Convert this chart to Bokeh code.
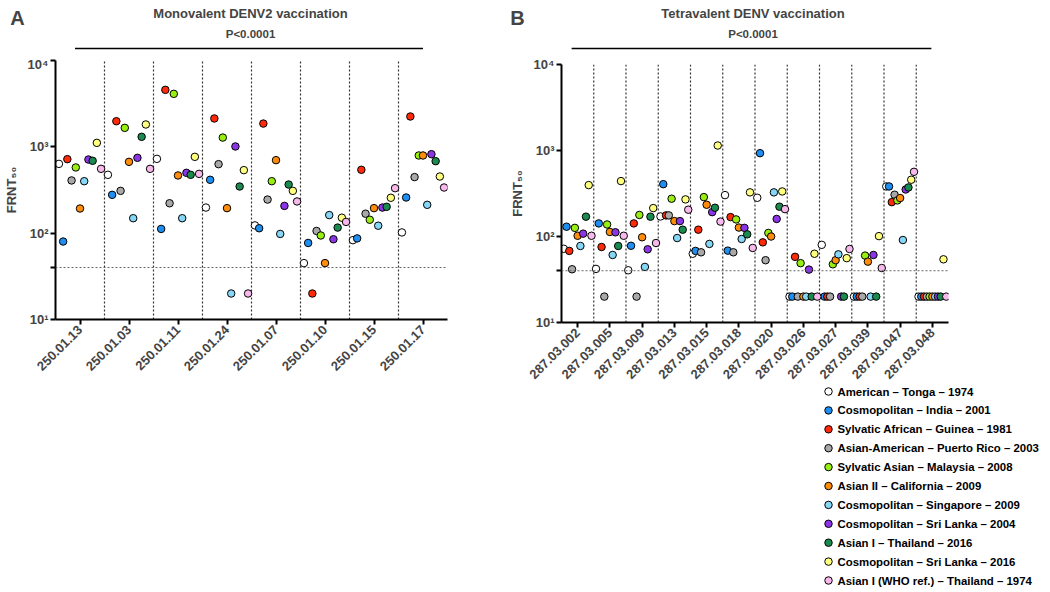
import math
from bokeh.plotting import figure
from bokeh.models import (ColumnDataSource, FactorRange, FixedTicker, Span, Label, Range1d)
from bokeh.core.properties import value
from bokeh.transform import dodge
from bokeh.layouts import row, column
from bokeh.embed import file_html
from bokeh.resources import INLINE

FONT = "Liberation Sans"

# ---------------- data ----------------
strains = [
    "American – Tonga – 1974",
    "Cosmopolitan – India – 2001",
    "Sylvatic African – Guinea – 1981",
    "Asian-American – Puerto Rico – 2003",
    "Sylvatic Asian – Malaysia – 2008",
    "Asian II – California  – 2009",
    "Cosmopolitan – Singapore – 2009",
    "Cosmopolitan – Sri Lanka – 2004",
    "Asian I – Thailand – 2016",
    "Cosmopolitan – Sri Lanka – 2016",
    "Asian I (WHO ref.) – Thailand – 1974",
]
strain_colors = ["#FFFFFF", "#1E8EF0", "#FF2A0A", "#A8A8A8", "#99EE11", "#FF8C0A",
                 "#86D6F5", "#8B35E6", "#1A8A4E", "#FFFF80", "#F7B8EC"]

mono_categories = ["250.01.13", "250.01.03", "250.01.11", "250.01.24",
                   "250.01.07", "250.01.10", "250.01.15", "250.01.17"]
tetra_categories = ["287.03.002", "287.03.005", "287.03.009", "287.03.013",
                    "287.03.015", "287.03.018", "287.03.020", "287.03.026",
                    "287.03.027", "287.03.039", "287.03.047", "287.03.048"]

# Monovalent DENV2 vaccination (FRNT50 per strain, one value per participant)
mono_american_tonga = [635, 474, 726, 198, 123, 45, 83, 102]
mono_cosmo_india = [80, 278, 112, 415, 114, 77, 87, 259]
mono_sylvatic_african = [720, 1980, 4570, 2130, 1860, 20, 542, 2245]
mono_asian_american = [408, 309, 222, 630, 245, 106, 168, 446]
mono_sylvatic_asian = [577, 1660, 4110, 1280, 400, 94, 143, 794]
mono_asian2_california = [193, 670, 466, 195, 701, 45, 195, 794]
mono_cosmo_singapore = [400, 149, 149, 20, 98, 162, 122, 213]
mono_cosmo_srilanka_2004 = [713, 746, 500, 1010, 207, 85, 198, 822]
mono_asian1_thailand_2016 = [689, 1306, 474, 347, 366, 116, 202, 682]
mono_cosmo_srilanka_2016 = [1112, 1815, 766, 537, 309, 151, 257, 453]
mono_asian1_who = [556, 556, 486, 20, 233, 135, 332, 338]

# Tetravalent DENV vaccination
tetra_american_tonga = [72, 42, 40.5, 171, 63, 303, 282, 20, 80, 20, 382, 20]
tetra_cosmo_india = [130, 142, 78, 406, 68, 68.5, 931, 20, 20, 20, 382, 20]
tetra_sylvatic_african = [68, 75.5, 142, 176, 120, 168, 85.5, 58, 20, 20, 251, 20]
tetra_asian_american = [41.6, 20, 20, 176, 65.5, 65.5, 53, 20, 20, 20, 306, 20]
tetra_sylvatic_asian = [126, 138, 178, 275, 287, 158, 110, 49, 47.5, 60, 263, 20]
tetra_asian2_california = [102, 113, 98, 151, 234, 127, 100, 20, 53, 51, 280, 20]
tetra_cosmo_singapore = [77.6, 61, 44.3, 96, 82, 93.5, 326, 20, 62, 20, 91, 20]
tetra_cosmo_srilanka_2004 = [108, 112, 71, 151, 192, 126, 160, 41.2, 20, 61, 352, 20]
tetra_asian1_thailand_2016 = [170, 77.6, 170, 120, 216, 106, 222, 20, 20, 20, 372, 20]
tetra_cosmo_srilanka_2016 = [396, 441, 214, 270, 1143, 326, 334, 63, 56, 101, 457, 54.3]
tetra_asian1_who = [102, 102, 84, 205, 149, 73.6, 208, 20, 71.6, 43, 565, 20]

limit_of_detection = 40
p_value_text = "P<0.0001"

mono_series = [mono_american_tonga, mono_cosmo_india, mono_sylvatic_african,
               mono_asian_american, mono_sylvatic_asian, mono_asian2_california,
               mono_cosmo_singapore, mono_cosmo_srilanka_2004,
               mono_asian1_thailand_2016, mono_cosmo_srilanka_2016, mono_asian1_who]
tetra_series = [tetra_american_tonga, tetra_cosmo_india, tetra_sylvatic_african,
                tetra_asian_american, tetra_sylvatic_asian, tetra_asian2_california,
                tetra_cosmo_singapore, tetra_cosmo_srilanka_2004,
                tetra_asian1_thailand_2016, tetra_cosmo_srilanka_2016, tetra_asian1_who]

HEADER_H = 56
MARKER_SIZE = 7.5


def make_header(width, height, title, letter, letter_x, frame_left, frame_w, n):
    """Panel letter, title and significance bar (pixel-space figure above a panel)."""
    h = figure(x_range=Range1d(0, width), y_range=Range1d(height, 0),
               frame_width=width, frame_height=height,
               min_border_left=0, min_border_right=0, min_border_top=0, min_border_bottom=0,
               x_axis_location=None, y_axis_location=None,
               toolbar_location=None, output_backend="svg", title=None)
    h.outline_line_color = None
    h.grid.visible = False
    cx = frame_left + frame_w / 2
    cat_w = frame_w / n
    h.add_layout(Label(x=letter_x, y=17, text=letter, text_align="center",
                       text_baseline="middle", text_font=FONT, text_font_style="bold",
                       text_font_size="20px"))
    h.add_layout(Label(x=cx, y=12.5, text=title, text_align="center",
                       text_baseline="middle", text_font=FONT, text_font_style="bold",
                       text_font_size="13px"))
    h.add_layout(Label(x=cx, y=33, text=p_value_text, text_align="center",
                       text_baseline="middle", text_font=FONT, text_font_style="bold",
                       text_font_size="11.5px"))
    x0 = frame_left + 0.5 * cat_w - 4
    x1 = frame_left + (n - 0.5) * cat_w + 1
    h.segment(x0=[x0], x1=[x1], y0=[48], y1=[48], line_color="black", line_width=1.5)
    return h


def make_panel(cats, series, frame_w, frame_h, border_left, border_right, border_top):
    n = len(cats)
    p = figure(x_range=FactorRange(factors=cats, range_padding=0),
               y_axis_type="log", y_range=(10, 10000),
               frame_width=frame_w, frame_height=frame_h,
               min_border_left=border_left, min_border_right=border_right,
               min_border_top=border_top, min_border_bottom=0,
               toolbar_location=None, output_backend="svg", title=None)
    p.outline_line_color = None
    p.xgrid.grid_line_color = None
    p.ygrid.grid_line_color = None

    yax = p.yaxis[0]
    yax.ticker = FixedTicker(ticks=[10, 40, 100, 1000, 10000], minor_ticks=[])
    yax.major_label_overrides = {10: "10¹", 40: "", 100: "10²", 1000: "10³", 10000: "10⁴"}
    yax.axis_label = "FRNT₅₀"
    yax.axis_label_text_font = FONT
    yax.axis_label_text_font_style = "bold"
    yax.axis_label_text_font_size = "13px"
    yax.axis_label_standoff = 6
    yax.major_label_text_font = FONT
    yax.major_label_text_font_style = "bold"
    yax.major_label_text_font_size = "13px"
    yax.major_label_standoff = 2
    yax.axis_line_width = 2
    yax.major_tick_line_width = 2
    yax.major_tick_out = 5
    yax.major_tick_in = 0
    yax.minor_tick_line_color = None

    xax = p.xaxis[0]
    xax.major_label_orientation = math.pi / 4
    xax.major_label_text_font = FONT
    xax.major_label_text_font_style = "bold"
    xax.major_label_text_font_size = "13px"
    xax.major_label_standoff = 3
    xax.axis_line_width = 2
    xax.major_tick_line_width = 2
    xax.major_tick_out = 5
    xax.major_tick_in = 0
    xax.minor_tick_line_color = None

    # limit of detection and participant dividers
    p.add_layout(Span(location=limit_of_detection, dimension="width",
                      line_color="#666666", line_dash="2 2", line_width=1))
    p.segment(x0=list(range(1, n)), x1=list(range(1, n)),
              y0=[10] * (n - 1), y1=[10000] * (n - 1),
              line_color="#333333", line_dash="2 2", line_width=1.2)

    k = len(series)
    for i, (vals, col) in enumerate(zip(series, strain_colors)):
        src = ColumnDataSource(dict(cat=cats, v=vals))
        p.scatter(x=dodge("cat", (i - (k - 1) / 2) * 0.086, range=p.x_range), y="v",
                  source=src, size=MARKER_SIZE, fill_color=col, line_color="black",
                  line_width=1)
    return p


def make_key_figure(width, height, border_left, key_x, first_y, row_h):
    """Strain key (marker + label per strain) placed under panel B, pixel coordinates."""
    fw = width - border_left
    f = figure(x_range=Range1d(0, fw), y_range=Range1d(height, 0),
               frame_width=fw, frame_height=height,
               min_border_left=border_left, min_border_right=0,
               min_border_top=0, min_border_bottom=0,
               x_axis_location=None, y_axis_location=None,
               toolbar_location=None, output_backend="svg", title=None)
    f.outline_line_color = None
    f.grid.visible = False
    nrow = len(strains)
    src = ColumnDataSource(dict(
        mx=[key_x] * nrow,
        tx=[key_x + 9] * nrow,
        y=[first_y + row_h * i for i in range(nrow)],
        color=strain_colors,
        label=strains,
    ))
    f.scatter(x="mx", y="y", source=src, size=MARKER_SIZE, fill_color="color",
              line_color="black", line_width=1)
    f.text(x="tx", y="y", text="label", source=src, text_baseline="middle",
           text_align="left", text_font=value(FONT), text_font_style="bold",
           text_font_size=value("11.4px"), text_color="black")
    return f


# Panel geometry (pixels)
A_W, A_LEFT, A_FW, A_FH = 505, 54, 392, 259
B_W, B_LEFT, B_FW, B_FH = 543, 54, 387, 258

hA = make_header(A_W, HEADER_H, "Monovalent DENV2 vaccination", "A", 17,
                 A_LEFT, A_FW, len(mono_categories))
hB = make_header(B_W, HEADER_H, "Tetravalent DENV vaccination", "B", 12,
                 B_LEFT, B_FW, len(tetra_categories))

pA = make_panel(mono_categories, mono_series, A_FW, A_FH,
                A_LEFT, A_W - A_LEFT - A_FW, 60 - HEADER_H)
pB = make_panel(tetra_categories, tetra_series, B_FW, B_FH,
                B_LEFT, B_W - B_LEFT - B_FW, 64 - HEADER_H)
keyB = make_key_figure(B_W, 204, B_LEFT, key_x=267, first_y=6, row_h=18.9)

layout = column(row(hA, hB), row(pA, column(pB, keyB)))
open("out.html", "w").write(file_html(layout, INLINE))
